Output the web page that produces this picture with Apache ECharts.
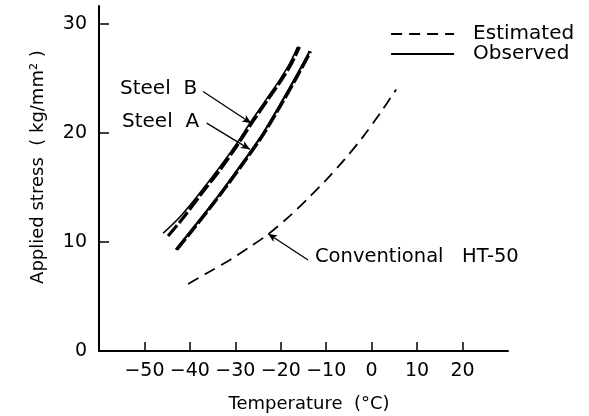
<!DOCTYPE html>
<html>
<head>
<meta charset="utf-8">
<script src="https://cdn.jsdelivr.net/npm/echarts@6/dist/echarts.min.js"></script>
<style>
html,body{margin:0;padding:0;background:#fff;}
#chart{width:589px;height:416px;}
</style>
</head>
<body>
<div id="chart"></div>
<script>
// Temperature (°C) and applied stress (kg/mm²)
const steelB_obs_T = [-45.9, -42.2, -38, -34, -30, -26.8, -23, -20.2, -18, -16.3];
const steelB_obs_S = [10.8, 12.3, 14.4, 16.55, 18.85, 20.9, 23.2, 24.9, 26.4, 27.9];
const steelB_est_T = [-44.8, -41.5, -37.5, -33.5, -29.6, -26.4, -22.6, -19.8, -17.6, -15.9];
const steelB_est_S = [10.55, 12.2, 14.4, 16.55, 18.85, 20.9, 23.2, 24.9, 26.4, 27.9];
const steelA_obs_T = [-43.1, -40, -36, -32, -28, -24, -20, -17, -14, -13.7];
const steelA_obs_S = [9.3, 10.9, 13.0, 15.2, 17.5, 19.9, 22.7, 24.9, 27.2, 27.5];
const steelA_est_T = [-42.9, -39.8, -35.8, -31.8, -27.8, -23.8, -19.8, -16.8, -13.8, -13.5];
const steelA_est_S = [9.3, 10.9, 13.0, 15.2, 17.5, 19.9, 22.7, 24.9, 27.2, 27.5];
const ht50_T = [-40.4, -36, -31.2, -27, -22.8, -18, -14, -10, -6, -2, 2, 5.4];
const ht50_S = [6.15, 7.2, 8.35, 9.5, 10.7, 12.4, 14.0, 15.7, 17.55, 19.6, 21.9, 24.0];

const xTicks = [-50, -40, -30, -20, -10, 0, 10, 20];
const yTicks = [0, 10, 20, 30];

const legendNames = ['Estimated', 'Observed'];
const labelSteelB = 'Steel  B';
const labelSteelA = 'Steel  A';
const labelHT = 'Conventional   HT-50';
const xTitle = 'Temperature  (°C)';
const yTitle = 'Applied stress  ( kg/mm² )';

// arrows: [start, end] in data units
const arrowB = [[-37.1, 23.8], [-26.5, 20.9]];
const arrowA = [[-36.3, 20.9], [-26.8, 18.5]];
const arrowHT = [[-14.0, 8.35], [-22.8, 10.75]];

const zip = (a, b) => a.map((v, i) => [v, b[i]]);
const FONT = 'DejaVu Sans';

const chart = echarts.init(document.getElementById('chart'), null, {renderer: 'canvas'});

function arrowLine(p) {
  return [{coord: p[0]}, {coord: p[1]}];
}

const option = {
  animation: false,
  backgroundColor: '#fff',
  grid: {left: 99, right: 81, top: 6, bottom: 65},
  xAxis: {
    type: 'value', min: -60, max: 30,
    axisLine: {onZero: false, lineStyle: {color: '#000', width: 2}},
    axisTick: {inside: true, length: 9, lineStyle: {color: '#000', width: 1.5}, customValues: xTicks},
    axisLabel: {customValues: xTicks, color: '#000', fontFamily: FONT, fontSize: 19, margin: 11,
      formatter: v => String(v).replace('-', '\u2212')},
    splitLine: {show: false}
  },
  yAxis: {
    type: 'value', min: 0, max: 31.65,
    axisLine: {show: true, onZero: false, lineStyle: {color: '#000', width: 2}},
    axisTick: {show: true, inside: true, length: 10, lineStyle: {color: '#000', width: 1.5}, customValues: yTicks},
    axisLabel: {customValues: yTicks, color: '#000', fontFamily: FONT, fontSize: 19, margin: 12},
    splitLine: {show: false}
  },
  legend: {
    orient: 'vertical', left: 385, top: 19, itemGap: 0,
    itemWidth: 63, itemHeight: 20,
    itemStyle: {opacity: 0},
    data: [
      {name: legendNames[0], itemStyle: {opacity: 0}, lineStyle: {width: 2, type: [11, 7], color: '#000'}},
      {name: legendNames[1], itemStyle: {opacity: 0}, lineStyle: {width: 2.2, type: 'solid', color: '#000'}}
    ],
    textStyle: {color: '#000', fontFamily: FONT, fontSize: 20, padding: [0, 0, 0, 14]},
    selectedMode: false
  },
  series: [
    {name: legendNames[0], type: 'line', data: zip(ht50_T, ht50_S), symbol: 'none', smooth: 0.3,
      lineStyle: {color: '#000', width: 1.8, type: [12, 7]}, itemStyle: {color: '#000'}},
    {name: legendNames[1], type: 'line', data: zip(steelB_obs_T, steelB_obs_S), symbol: 'none', smooth: 0.3,
      lineStyle: {color: '#000', width: 1.6}, itemStyle: {color: '#000'}},
    {name: legendNames[0], type: 'line', data: zip(steelB_est_T, steelB_est_S), symbol: 'none', smooth: 0.3,
      lineStyle: {color: '#000', width: 3.2, type: [14, 3]}, itemStyle: {color: '#000'}},
    {name: legendNames[1], type: 'line', data: zip(steelA_obs_T, steelA_obs_S), symbol: 'none', smooth: 0.3,
      lineStyle: {color: '#000', width: 2.2}, itemStyle: {color: '#000'}},
    {name: legendNames[0], type: 'line', data: zip(steelA_est_T, steelA_est_S), symbol: 'none', smooth: 0.3,
      lineStyle: {color: '#000', width: 3.4, type: [14, 3]}, itemStyle: {color: '#000'}},
    {name: 'arrows', type: 'line', data: [], symbol: 'none',
      markLine: {
        silent: true, symbol: ['none', 'arrow'], symbolSize: [6, 9],
        label: {show: false},
        lineStyle: {color: '#000', width: 1.3, type: 'solid'},
        data: [arrowLine(arrowB), arrowLine(arrowA), arrowLine(arrowHT)]
      }}
  ],
  graphic: [
    {type: 'text', x: 120, y: 89, style: {text: labelSteelB, font: '20px "DejaVu Sans"', fill: '#000', textVerticalAlign: 'middle'}},
    {type: 'text', x: 122, y: 122, style: {text: labelSteelA, font: '20px "DejaVu Sans"', fill: '#000', textVerticalAlign: 'middle'}},
    {type: 'text', x: 315, y: 257, style: {text: labelHT, font: '19.5px "DejaVu Sans"', fill: '#000', textVerticalAlign: 'middle'}},
    {type: 'text', x: 309, y: 404, style: {text: xTitle, font: '18px "DejaVu Sans"', fill: '#000', textAlign: 'center', textVerticalAlign: 'middle'}},
    {type: 'text', x: 38, y: 167, rotation: Math.PI / 2, style: {text: yTitle, font: '18px "DejaVu Sans"', fill: '#000', textAlign: 'center', textVerticalAlign: 'middle'}}
  ]
};
chart.setOption(option);
</script>
</body>
</html>
